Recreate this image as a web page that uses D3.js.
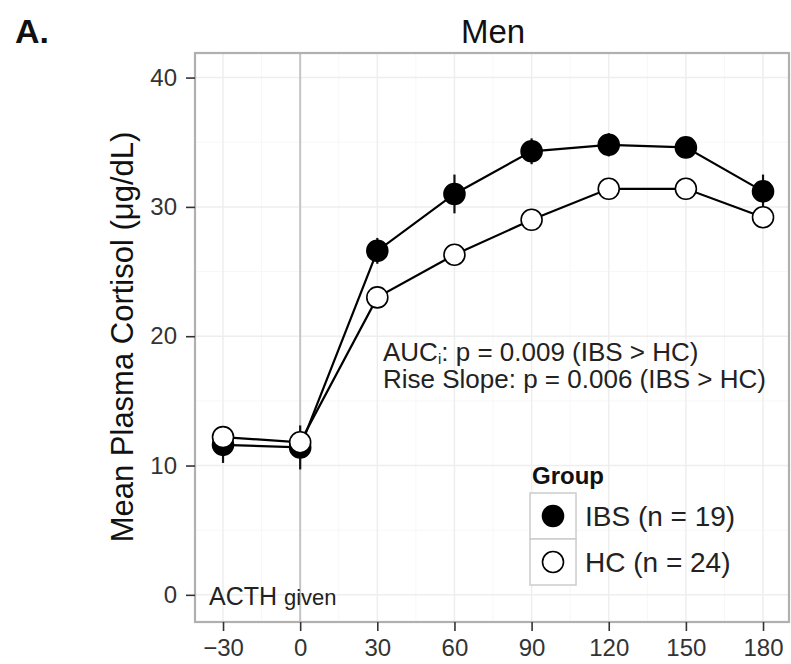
<!DOCTYPE html>
<html>
<head>
<meta charset="utf-8">
<script src="https://cdn.jsdelivr.net/npm/d3@7"></script>
<style>
  body { margin: 0; background: #fff; }
  text { font-family: "Liberation Sans", Arial, Helvetica, sans-serif; }
</style>
</head>
<body>
<div id="chart"></div>
<script>
// data
var times = [-30, 0, 30, 60, 90, 120, 150, 180];
var ibsMean = [11.6, 11.4, 26.6, 31.0, 34.3, 34.8, 34.6, 31.2];
var ibsErr  = [1.4, 1.7, 1.0, 1.5, 1.0, 0.9, 0.7, 1.3];
var hcMean  = [12.2, 11.8, 23.0, 26.3, 29.0, 31.4, 31.4, 29.2];
var hcErr   = [0.8, 0.8, 0.6, 0.7, 0.7, 0.7, 0.7, 0.7];
var yTicks = [0, 10, 20, 30, 40];
var groups = ["IBS (n = 19)", "HC (n = 24)"];

var width = 791, height = 664;
var pLeft = 195, pRight = 789, pTop = 53, pBottom = 622;

var svg = d3.select("#chart")
  .append("svg")
    .attr("width", width)
    .attr("height", height);

var x = d3.scaleLinear().domain([-40.9, 190.1]).range([pLeft, pRight]);
var y = d3.scaleLinear().domain([-2.1, 41.9]).range([pBottom, pTop]);

// panel + grid
var minorX = d3.range(-45, 195, 30).filter(v => v > -40.9 && v < 190.1);
var minorY = d3.range(-5, 45, 10).filter(v => v > -2.1 && v < 41.9);

svg.selectAll(".gminx").data(minorX).enter().append("line")
  .attr("x1", d => x(d)).attr("x2", d => x(d)).attr("y1", pTop).attr("y2", pBottom)
  .attr("stroke", "#f7f7f7").attr("stroke-width", 1);
svg.selectAll(".gminy").data(minorY).enter().append("line")
  .attr("y1", d => y(d)).attr("y2", d => y(d)).attr("x1", pLeft).attr("x2", pRight)
  .attr("stroke", "#f7f7f7").attr("stroke-width", 1);
svg.selectAll(".gx").data(times).enter().append("line")
  .attr("x1", d => x(d)).attr("x2", d => x(d)).attr("y1", pTop).attr("y2", pBottom)
  .attr("stroke", "#eeeeee").attr("stroke-width", 1.5);
svg.selectAll(".gy").data(yTicks).enter().append("line")
  .attr("y1", d => y(d)).attr("y2", d => y(d)).attr("x1", pLeft).attr("x2", pRight)
  .attr("stroke", "#eeeeee").attr("stroke-width", 1.5);

// ACTH marker line at time 0
svg.append("line")
  .attr("x1", x(0)).attr("x2", x(0)).attr("y1", pTop).attr("y2", pBottom)
  .attr("stroke", "#c4c4c4").attr("stroke-width", 2);

svg.append("rect")
  .attr("x", pLeft).attr("y", pTop).attr("width", pRight - pLeft).attr("height", pBottom - pTop)
  .attr("fill", "none").attr("stroke", "#b0b0b0").attr("stroke-width", 2.2);

// axes
var yAxis = svg.append("g")
  .attr("transform", "translate(" + pLeft + ",0)")
  .call(d3.axisLeft(y).tickValues(yTicks).tickSize(9).tickPadding(9));
var xAxis = svg.append("g")
  .attr("transform", "translate(0," + pBottom + ")")
  .call(d3.axisBottom(x).tickValues(times).tickSize(9).tickPadding(5)
    .tickFormat(d => d < 0 ? "\u2212" + Math.abs(d) : d));
[yAxis, xAxis].forEach(function(a) {
  a.select(".domain").remove();
  a.selectAll(".tick line").attr("stroke", "#333").attr("stroke-width", 1.6);
  a.selectAll(".tick text").attr("fill", "#333").style("font-size", "24px");
});
xAxis.selectAll(".tick text").attr("dy", "0.85em");

// series
var series = [
  { name: groups[0], mean: ibsMean, err: ibsErr, fill: "#000" },
  { name: groups[1], mean: hcMean, err: hcErr, fill: "#fff" }
];
var line = d3.line().x(d => x(d.t)).y(d => y(d.v));

series.forEach(function(s) {
  var pts = times.map((t, i) => ({ t: t, v: s.mean[i], e: s.err[i] }));
  svg.append("path")
    .datum(pts)
    .attr("d", line)
    .attr("fill", "none")
    .attr("stroke", "#000")
    .attr("stroke-width", 2.2);
  svg.selectAll(null).data(pts).enter().append("line")
    .attr("x1", d => x(d.t)).attr("x2", d => x(d.t))
    .attr("y1", d => y(d.v - d.e)).attr("y2", d => y(d.v + d.e))
    .attr("stroke", "#111").attr("stroke-width", 2.2);
  s.pts = pts;
});
series.forEach(function(s) {
  svg.selectAll(null).data(s.pts).enter().append("circle")
    .attr("cx", d => x(d.t)).attr("cy", d => y(d.v))
    .attr("r", 10.5)
    .attr("fill", s.fill)
    .attr("stroke", "#000").attr("stroke-width", 1.6);
});

// annotations
var ann = svg.append("text").attr("x", 383).attr("y", 361)
  .attr("fill", "#222").style("font-size", "26px");
ann.append("tspan").text("AUC");
ann.append("tspan").attr("dy", 3).style("font-size", "15px").text("i");
ann.append("tspan").attr("dy", -3).text(": p = 0.009 (IBS > HC)");
svg.append("text").attr("x", 383).attr("y", 388)
  .attr("fill", "#222").style("font-size", "26px")
  .text("Rise Slope: p = 0.006 (IBS > HC)");

var acth = svg.append("text").attr("x", 209).attr("y", 605)
  .attr("fill", "#222").style("font-size", "25px");
acth.append("tspan").text("ACTH ");
acth.append("tspan").style("font-size", "22px").text("given");

// titles
svg.append("text").attr("x", 493).attr("y", 43).attr("text-anchor", "middle")
  .style("font-size", "33px").attr("fill", "#111").text("Men");
svg.append("text").attr("x", 15).attr("y", 43)
  .style("font-size", "34px").style("font-weight", "bold").attr("fill", "#111").text("A.");
svg.append("text")
  .attr("transform", "translate(133," + 337 + ") rotate(-90)")
  .attr("text-anchor", "middle")
  .style("font-size", "31px").attr("fill", "#111")
  .text("Mean Plasma Cortisol (\u03bcg/dL)");

// legend
var lg = svg.append("g").attr("transform", "translate(530,470)");
lg.append("text").attr("x", 2).attr("y", 14)
  .style("font-size", "24px").style("font-weight", "bold").attr("fill", "#111").text("Group");
series.forEach(function(s, i) {
  var g = lg.append("g").attr("transform", "translate(0," + (23 + i * 46) + ")");
  g.append("rect").attr("width", 46).attr("height", 46)
    .attr("fill", "#fff").attr("stroke", "#cccccc").attr("stroke-width", 1.5);
  g.append("circle").attr("cx", 23).attr("cy", 23).attr("r", 10.5)
    .attr("fill", s.fill).attr("stroke", "#000").attr("stroke-width", 1.6);
  g.append("text").attr("x", 55).attr("y", 33)
    .style("font-size", "28px").attr("fill", "#222").text(s.name);
});
</script>
</body>
</html>
